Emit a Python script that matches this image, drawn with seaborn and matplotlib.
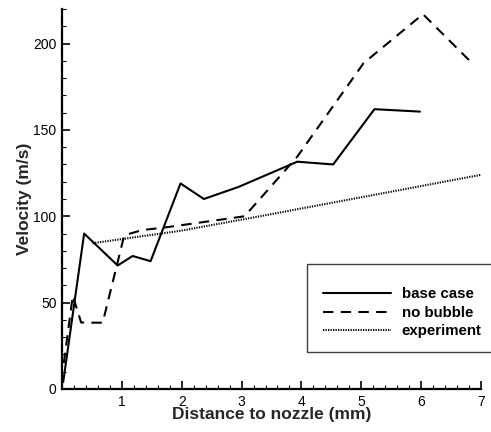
import matplotlib
matplotlib.use("Agg")
import matplotlib.pyplot as plt
import seaborn as sns
import pandas as pd
from matplotlib.patches import Rectangle
from matplotlib.ticker import MultipleLocator

# ---- data ----
base_x = [0.02, 0.37, 0.93, 1.18, 1.48, 1.98, 2.37, 2.95, 3.93, 4.53, 5.22, 5.98]
base_y = [4, 90, 71.5, 77, 74, 119, 110, 117, 131.6, 130, 162, 160.6]

nob_x = [0.03, 0.18, 0.32, 0.51, 0.68, 1.04, 1.34, 1.76, 3.05, 3.93, 5.04, 6.03, 6.87]
nob_y = [15, 54, 38.5, 38.4, 38.4, 89, 92, 93.7, 100, 134.5, 188.7, 217, 188]

exp_x = [0.51, 1.98, 3.15, 5.0, 7.0]
exp_y = [84.4, 91.6, 99, 111, 124]

labels = ["base case", "no bubble", "experiment"]

df = pd.concat([
    pd.DataFrame({"x": base_x, "y": base_y, "series": labels[0]}),
    pd.DataFrame({"x": nob_x, "y": nob_y, "series": labels[1]}),
    pd.DataFrame({"x": exp_x, "y": exp_y, "series": labels[2]}),
], ignore_index=True)

sns.set_theme(style="ticks")
plt.rcParams["font.family"] = ["Liberation Sans", "DejaVu Sans"]

W, H = 491, 432
fig = plt.figure(figsize=(W / 100, H / 100), dpi=100)
ax = fig.add_axes([62 / W, 1 - 389 / H, (481 - 62) / W, (389 - 9) / H])

styles = {
    labels[0]: dict(linestyle="-", linewidth=1.5),
    labels[1]: dict(linestyle=(0, (5, 3.5)), linewidth=1.5),
    labels[2]: dict(linestyle=(0, (0.6, 0.6)), linewidth=1.5),
}
for lab in labels:
    sub = df[df["series"] == lab]
    sns.lineplot(data=sub, x="x", y="y", ax=ax, color="black", sort=False,
                 estimator=None, label=lab, **styles[lab])

ax.set_xlim(0, 7)
ax.set_ylim(0, 220)
ax.set_xticks([1, 2, 3, 4, 5, 6, 7])
ax.xaxis.set_minor_locator(MultipleLocator(0.2))
ax.set_yticks([0, 50, 100, 150, 200])
ax.yaxis.set_minor_locator(MultipleLocator(10))

ax.tick_params(which="major", direction="in", length=5.5, width=1.2,
               labelsize=10, color="black", labelcolor="black")
ax.tick_params(which="minor", direction="in", length=3, width=0.8, color="black")
ax.tick_params(axis="y", which="major", pad=4)
ax.tick_params(axis="x", which="major", pad=4)

for side in ["top", "right"]:
    ax.spines[side].set_visible(False)
for side in ["left", "bottom"]:
    ax.spines[side].set_linewidth(1.6)
    ax.spines[side].set_color("black")

ax.set_xlabel("Distance to nozzle (mm)", fontsize=12.5, fontweight="bold", labelpad=-1)
ax.set_ylabel("Velocity (m/s)", fontsize=12.5, fontweight="bold", labelpad=0.5)

# legend
ax.get_legend().remove()
handles, labs = ax.get_legend_handles_labels()
leg = fig.legend(handles, labs, loc="upper left",
                 bbox_to_anchor=(323 / W, 1 - 287.5 / H), bbox_transform=fig.transFigure,
                 frameon=False, borderpad=0, borderaxespad=0,
                 handlelength=4.5, handletextpad=0.75, labelspacing=0.3,
                 prop={"family": "Liberation Sans", "weight": "bold", "size": 10.8})
for t in leg.get_texts():
    t.set_color("black")

rect = Rectangle((307 / W, 1 - 352 / H), (500 - 307) / W, (352 - 264) / H,
                 transform=fig.transFigure, fill=False, edgecolor="#404040",
                 linewidth=1.0, clip_on=False)
fig.patches.append(rect)

fig.savefig("out.png", dpi=100)
